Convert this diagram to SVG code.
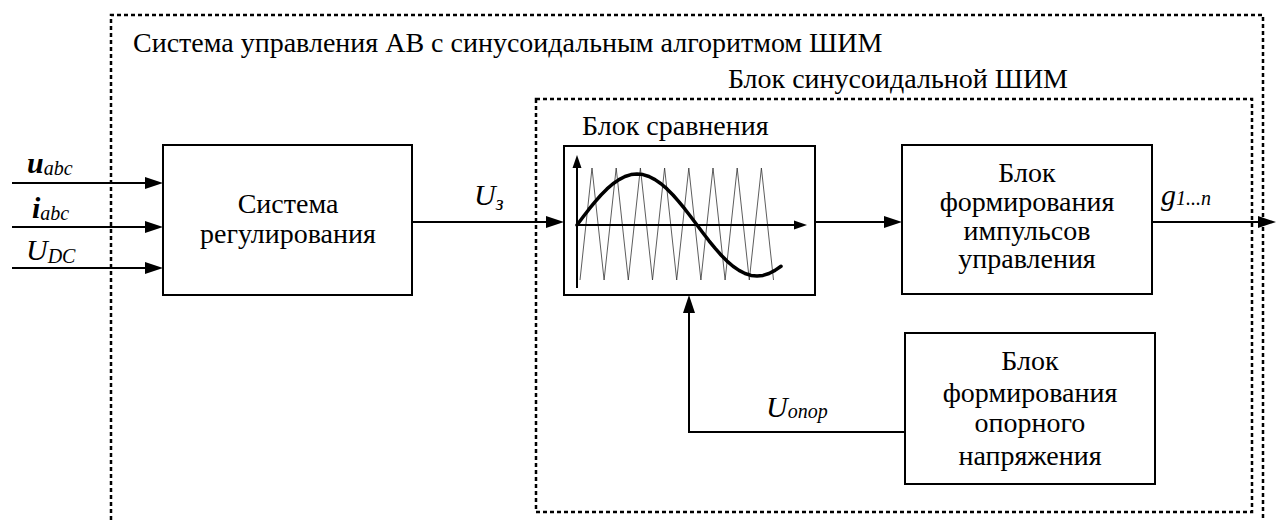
<svg xmlns="http://www.w3.org/2000/svg" width="1276" height="520" viewBox="0 0 1276 520">
<rect width="1276" height="520" fill="#fff"/>
<g id="outer">
<path d="M111,520 L111,15 L1263,15 L1263,520" fill="none" stroke="#000" stroke-width="2.5" stroke-dasharray="4 3"/>
<text x="133" y="52" style="font-family:'Liberation Serif','Times New Roman',serif !important;font-size:28px">Система управления АВ с синусоидальным алгоритмом ШИМ</text>
</g>
<g id="inner">
<rect x="536" y="99" width="716" height="413" fill="none" stroke="#000" stroke-width="2.5" stroke-dasharray="4 3"/>
<text x="1068" y="88" text-anchor="end" style="font-family:'Liberation Serif','Times New Roman',serif !important;font-size:28px">Блок синусоидальной ШИМ</text>
</g>
<g id="connectors" stroke="#000" stroke-width="2" fill="none">
<line x1="12" y1="183" x2="147" y2="183"/>
<line x1="12" y1="227" x2="147" y2="227"/>
<line x1="12" y1="268" x2="147" y2="268"/>
<line x1="412" y1="222" x2="548" y2="222"/>
<line x1="815" y1="222" x2="886" y2="222"/>
<line x1="1152" y1="222" x2="1260" y2="222"/>
<polyline points="905,432 689,432 689,311"/>
<g fill="#000" stroke="none">
<polygon points="145,177 163,183 145,189"/>
<polygon points="145,221 163,227 145,233"/>
<polygon points="145,262 163,268 145,274"/>
<polygon points="546,216 564,222 546,228"/>
<polygon points="884,216 902,222 884,228"/>
<polygon points="1258,216 1276,222 1258,228"/>
<polygon points="683,313 689,295 695,313"/>
</g>
</g>
<g id="labels" fill="#000">
<text style="font-family:'Liberation Serif','Times New Roman',serif !important;font-style:italic;font-size:20px"><tspan x="27" y="173" style="font-weight:bold;font-size:30px">u</tspan><tspan dy="2">abc</tspan></text>
<text style="font-family:'Liberation Serif','Times New Roman',serif !important;font-style:italic;font-size:20px"><tspan x="32" y="218" style="font-weight:bold;font-size:30px">i</tspan><tspan dy="2">abc</tspan></text>
<text style="font-family:'Liberation Serif','Times New Roman',serif !important;font-style:italic;font-size:20px"><tspan x="26" y="260" style="font-size:30px">U</tspan><tspan dy="3">DC</tspan></text>
<text style="font-family:'Liberation Serif','Times New Roman',serif !important;font-style:italic;font-size:20px"><tspan x="474" y="205" style="font-size:30px">U</tspan><tspan dy="5">з</tspan></text>
<text style="font-family:'Liberation Serif','Times New Roman',serif !important;font-style:italic;font-size:20px"><tspan x="1161" y="205" style="font-size:30px">g</tspan><tspan>1...n</tspan></text>
<text style="font-family:'Liberation Serif','Times New Roman',serif !important;font-style:italic;font-size:20px"><tspan x="766" y="417" style="font-size:30px">U</tspan><tspan dy="1">опор</tspan></text>
</g>
<g id="sys">
<rect x="163" y="145" width="249" height="150" fill="#fff" stroke="#000" stroke-width="2"/>
<text x="288" y="213" text-anchor="middle" style="font-family:'Liberation Serif','Times New Roman',serif !important;font-size:28px">Система</text>
<text x="288" y="243" text-anchor="middle" style="font-family:'Liberation Serif','Times New Roman',serif !important;font-size:28px">регулирования</text>
</g>
<g id="cmp">
<text x="582" y="135" style="font-family:'Liberation Serif','Times New Roman',serif !important;font-size:28px">Блок сравнения</text>
<rect x="564" y="146" width="251" height="149" fill="#fff" stroke="#000" stroke-width="2"/>
<polyline fill="none" stroke="#333" stroke-width="0.8" points="580,280 592,168 604.1,280 616.2,168 628.3,280 640.4,168 652.5,280 664.6,168 676.7,280 688.8,168 700.9,280 713,168 725.1,280 737.2,168 749.3,280 761.4,168 773.5,280"/>
<line x1="577" y1="288" x2="577" y2="166" stroke="#000" stroke-width="2"/>
<line x1="577" y1="225" x2="796" y2="225" stroke="#000" stroke-width="2"/>
<polygon points="572.5,168 577,155 581.5,168" fill="#000"/>
<polygon points="794,220.5 807,225 794,229.5" fill="#000"/>
<polyline fill="none" stroke="#000" stroke-width="3.5" stroke-linejoin="round" stroke-linecap="round" points="577,225 583,217 589,209.2 595,201.8 601,195 607,188.9 613,183.7 619,179.6 625,176.5 631,174.6 637,174 643,174.6 649,176.5 655,179.6 661,183.7 667,188.9 673,195 679,201.8 685,209.2 691,217 697,225 703,233 709,240.8 715,248.2 721,255 727,261.1 733,266.3 739,270.4 745,273.5 751,275.4 757,276 763,275.4 769,273.5 775,270.4 781,266.3"/>
</g>
<g id="pulse">
<rect x="902" y="145" width="250" height="149" fill="#fff" stroke="#000" stroke-width="2"/>
<text x="1027" y="182" text-anchor="middle" style="font-family:'Liberation Serif','Times New Roman',serif !important;font-size:28px">Блок</text>
<text x="1027" y="211" text-anchor="middle" style="font-family:'Liberation Serif','Times New Roman',serif !important;font-size:28px">формирования</text>
<text x="1027" y="240" text-anchor="middle" style="font-family:'Liberation Serif','Times New Roman',serif !important;font-size:28px">импульсов</text>
<text x="1027" y="268" text-anchor="middle" style="font-family:'Liberation Serif','Times New Roman',serif !important;font-size:28px">управления</text>
</g>
<g id="ref">
<rect x="905" y="333" width="250" height="151" fill="#fff" stroke="#000" stroke-width="2"/>
<text x="1030" y="370" text-anchor="middle" style="font-family:'Liberation Serif','Times New Roman',serif !important;font-size:28px">Блок</text>
<text x="1030" y="402" text-anchor="middle" style="font-family:'Liberation Serif','Times New Roman',serif !important;font-size:28px">формирования</text>
<text x="1030" y="432" text-anchor="middle" style="font-family:'Liberation Serif','Times New Roman',serif !important;font-size:28px">опорного</text>
<text x="1030" y="465" text-anchor="middle" style="font-family:'Liberation Serif','Times New Roman',serif !important;font-size:28px">напряжения</text>
</g>
</svg>
